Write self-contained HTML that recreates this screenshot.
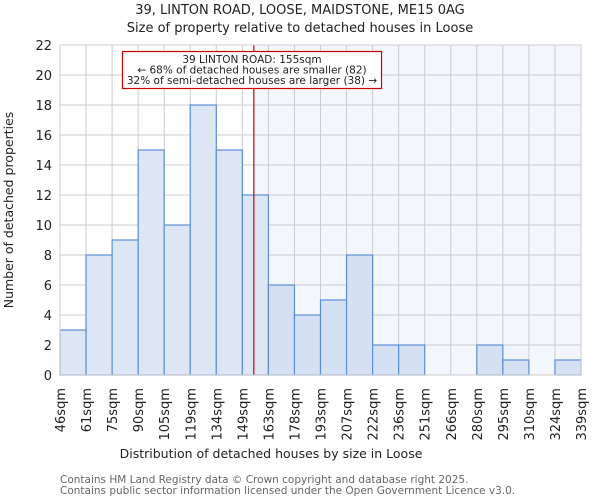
<!DOCTYPE html>
<html><head><meta charset="utf-8"><style>
body{margin:0;background:#fff;font-family:"DejaVu Sans","Liberation Sans",sans-serif}
</style></head><body>
<svg id="c" width="600" height="500" xmlns="http://www.w3.org/2000/svg" font-family="DejaVu Sans, Liberation Sans, sans-serif">
<text x="300" y="14" text-anchor="middle" font-size="13" fill="#222">39, LINTON ROAD, LOOSE, MAIDSTONE, ME15 0AG</text>
<text x="300" y="32" text-anchor="middle" font-size="13" fill="#222">Size of property relative to detached houses in Loose</text>
<g id="plot"></g>
<text x="271" y="458" text-anchor="middle" font-size="12.5" fill="#222">Distribution of detached houses by size in Loose</text>
<text x="13" y="210" transform="rotate(-90 13 210)" text-anchor="middle" font-size="12.5" fill="#222">Number of detached properties</text>
<text x="60" y="483" font-size="10.5" fill="#666">Contains HM Land Registry data © Crown copyright and database right 2025.</text>
<text x="60" y="494" font-size="10.5" fill="#666">Contains public sector information licensed under the Open Government Licence v3.0.</text>
</svg>
<script>
const tickLabels=["46sqm","61sqm","75sqm","90sqm","105sqm","119sqm","134sqm","149sqm","163sqm","178sqm","193sqm","207sqm","222sqm","236sqm","251sqm","266sqm","280sqm","295sqm","310sqm","324sqm","339sqm"];
const counts=[3,8,9,15,10,18,15,12,6,4,5,8,2,2,0,0,2,1,0,1];
const yTicks=[0,2,4,6,8,10,12,14,16,18,20,22];
const propertySize=155;
const sizeMin=46, sizeMax=339;
const X0=60,X1=581,Y0=375,Y1=45,YMAX=22;
const NS="http://www.w3.org/2000/svg";
const g=document.getElementById('plot');
const n=counts.length;
const xi=i=>X0+(X1-X0)*i/n;
const xs=v=>X0+(X1-X0)*(v-sizeMin)/(sizeMax-sizeMin);
const y=v=>Y0-(Y0-Y1)*v/YMAX;
function mk(t,a){const e=document.createElementNS(NS,t);for(const k in a)e.setAttribute(k,a[k]);g.appendChild(e);return e;}
const px=xs(propertySize);
let e=mk('rect',{x:px,y:Y1,width:X1-px,height:Y0-Y1,fill:'#f3f6fd'});


yTicks.forEach(t=>{
 let l=mk('line',{x1:X0,x2:X1,y1:y(t),y2:y(t),stroke:'#ccc','stroke-width':1});
 
 
 let tx=mk('text',{x:X0-8,y:y(t)+5,'text-anchor':'end','font-size':13,fill:'#222'});
 tx.textContent=t;
 
 
});
tickLabels.forEach((lab,i)=>{
 let l=mk('line',{x1:xi(i),x2:xi(i),y1:Y1,y2:Y0,stroke:'#ccc','stroke-width':1});
 
 
 const lx=xi(i)+5, ly=388;
 let tx=mk('text',{x:lx,y:ly,transform:'rotate(-90 '+lx+' '+ly+')','text-anchor':'end','font-size':13,fill:'#222'});
 tx.textContent=lab;
 
 
});
counts.forEach((c,i)=>{
 if(c<=0)return;
 const right=xi(i)>=px-5;
 let r=mk('rect',{x:xi(i),y:y(c),width:xi(i+1)-xi(i),height:Y0-y(c),fill:right?'#d5e1f3':'#dce6f4',stroke:'#5b8fd6','stroke-width':1.2});
 
 
});
let pl=mk('line',{x1:px,x2:px,y1:Y1,y2:Y0,stroke:'#c00','stroke-width':1.2});


let box=mk('rect',{x:122.5,y:51.5,width:259,height:37,fill:'#fff',stroke:'#c00','stroke-width':1.2});


["39 LINTON ROAD: 155sqm","← 68% of detached houses are smaller (82)","32% of semi-detached houses are larger (38) →"].forEach((s,i)=>{
 let t=mk('text',{x:252,y:63+i*10.5,'text-anchor':'middle','font-size':10.5,fill:'#222'});
 t.textContent=s;
 
 
});
let ax=mk('rect',{x:X0,y:Y1,width:X1-X0,height:Y0-Y1,fill:'none',stroke:'#ccc','stroke-width':1});


</script>
</body></html>
